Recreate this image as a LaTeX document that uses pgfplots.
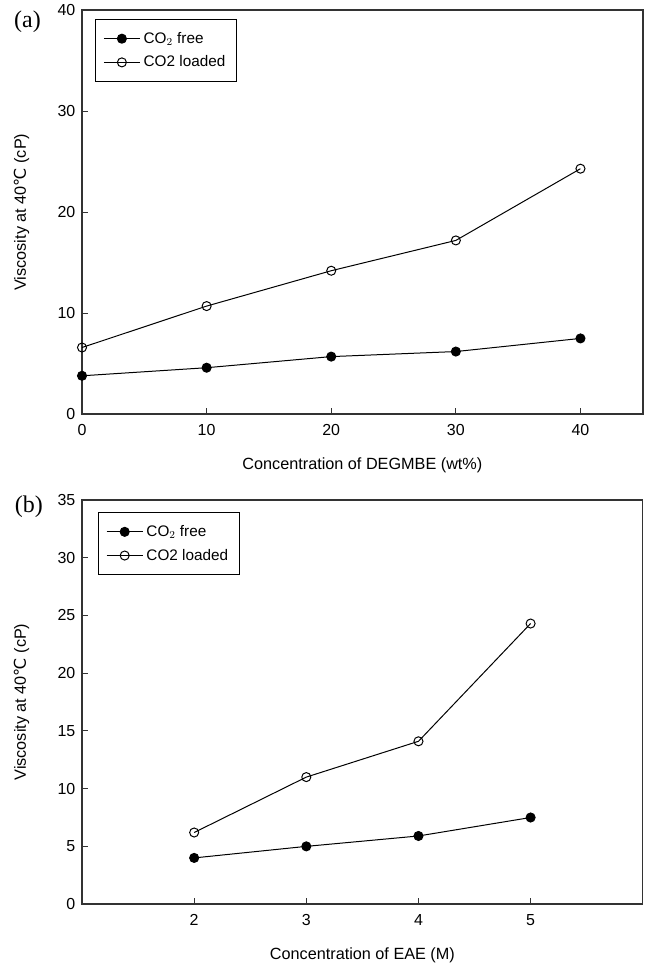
\documentclass[border={7pt 0pt 6pt 0pt}]{standalone}
\usepackage{pgfplots}
\pgfplotsset{compat=1.18}
\usepackage{fontspec}
\setmainfont{Liberation Sans}
\newfontfamily\symfont{DejaVu Sans}
\newfontfamily\panelfont{Liberation Serif}

\pgfplotsset{
  visc/.style={
    scale only axis,
    width=421.5pt,
    height=303.75pt,
    axis line style={line width=1.1pt, black!80},
    tick style={black!80, line width=0.8pt},
    tick align=inside,
    major tick length=4.5pt,
    xtick pos=bottom, ytick pos=left,
    tick label style={font=\fontsize{12}{14}\selectfont},
    xticklabel style={yshift=-4pt},
    yticklabel style={xshift=-1.5pt},
    every axis x label/.style={at={(axis description cs:0.5,-0.126)}, anchor=center,
      font=\fontsize{12.2}{14}\selectfont},
    every axis y label/.style={at={(axis description cs:-0.108,0.5)}, rotate=90, anchor=center,
      font=\fontsize{12.2}{14}\selectfont},
    /pgf/number format/assume math mode=true,
    legend cell align=left,
    legend style={font=\fontsize{11.5}{13}\selectfont, draw=black, line width=0.8pt,
      inner xsep=6pt, inner ysep=7pt, row sep=3pt, anchor=north west,
      nodes={inner sep=2.5pt}},
    legend image code/.code={
      \draw[mark repeat=2, mark phase=2] plot coordinates {(0pt,0pt) (13.5pt,0pt) (27pt,0pt)};},
    ylabel={Viscosity at 40{\symfont ℃} (cP)},
    every axis plot/.append style={black, line width=0.75pt, mark size=3.4pt},
  },
  free/.style={mark=*, mark options={fill=black}},
  loaded/.style={mark=o, mark options={fill=white}},
}

\begin{document}
\begin{tikzpicture}
\begin{axis}[visc, name=pa,
  at={(0,0)}, anchor=north west,
  xmin=0, xmax=45, ymin=0, ymax=40,
  xtick={0,10,20,30,40}, ytick={0,10,20,30,40},
  xlabel={Concentration of DEGMBE (wt\%)},
  legend style={at={(0.023,0.978)}},
]
\addplot[free] coordinates {(0,3.8) (10,4.6) (20,5.7) (30,6.2) (40,7.5)};
\addlegendentry{CO$_2$ free}
\addplot[loaded] coordinates {(0,6.6) (10,10.7) (20,14.2) (30,17.2) (40,24.3)};
\addlegendentry{CO2 loaded}
\end{axis}

\begin{axis}[visc, name=pb,
  at={(0,-368.25pt)}, anchor=north west,
  xmin=1, xmax=6, ymin=0, ymax=35,
  xtick={2,3,4,5}, ytick={0,5,...,35},
  xlabel={Concentration of EAE (M)},
  legend style={at={(0.028,0.970)}},
]
\addplot[free] coordinates {(2,4.0) (3,5.0) (4,5.9) (5,7.5)};
\addlegendentry{CO$_2$ free}
\addplot[loaded] coordinates {(2,6.2) (3,11.0) (4,14.1) (5,24.3)};
\addlegendentry{CO2 loaded}
\end{axis}

\node[font=\panelfont\fontsize{18}{20}\selectfont] at ([xshift=-41pt, yshift=-9pt]pa.north west) {(a)};
\node[font=\panelfont\fontsize{18}{20}\selectfont] at ([xshift=-40pt, yshift=-5pt]pb.north west) {(b)};
\end{tikzpicture}
\end{document}
